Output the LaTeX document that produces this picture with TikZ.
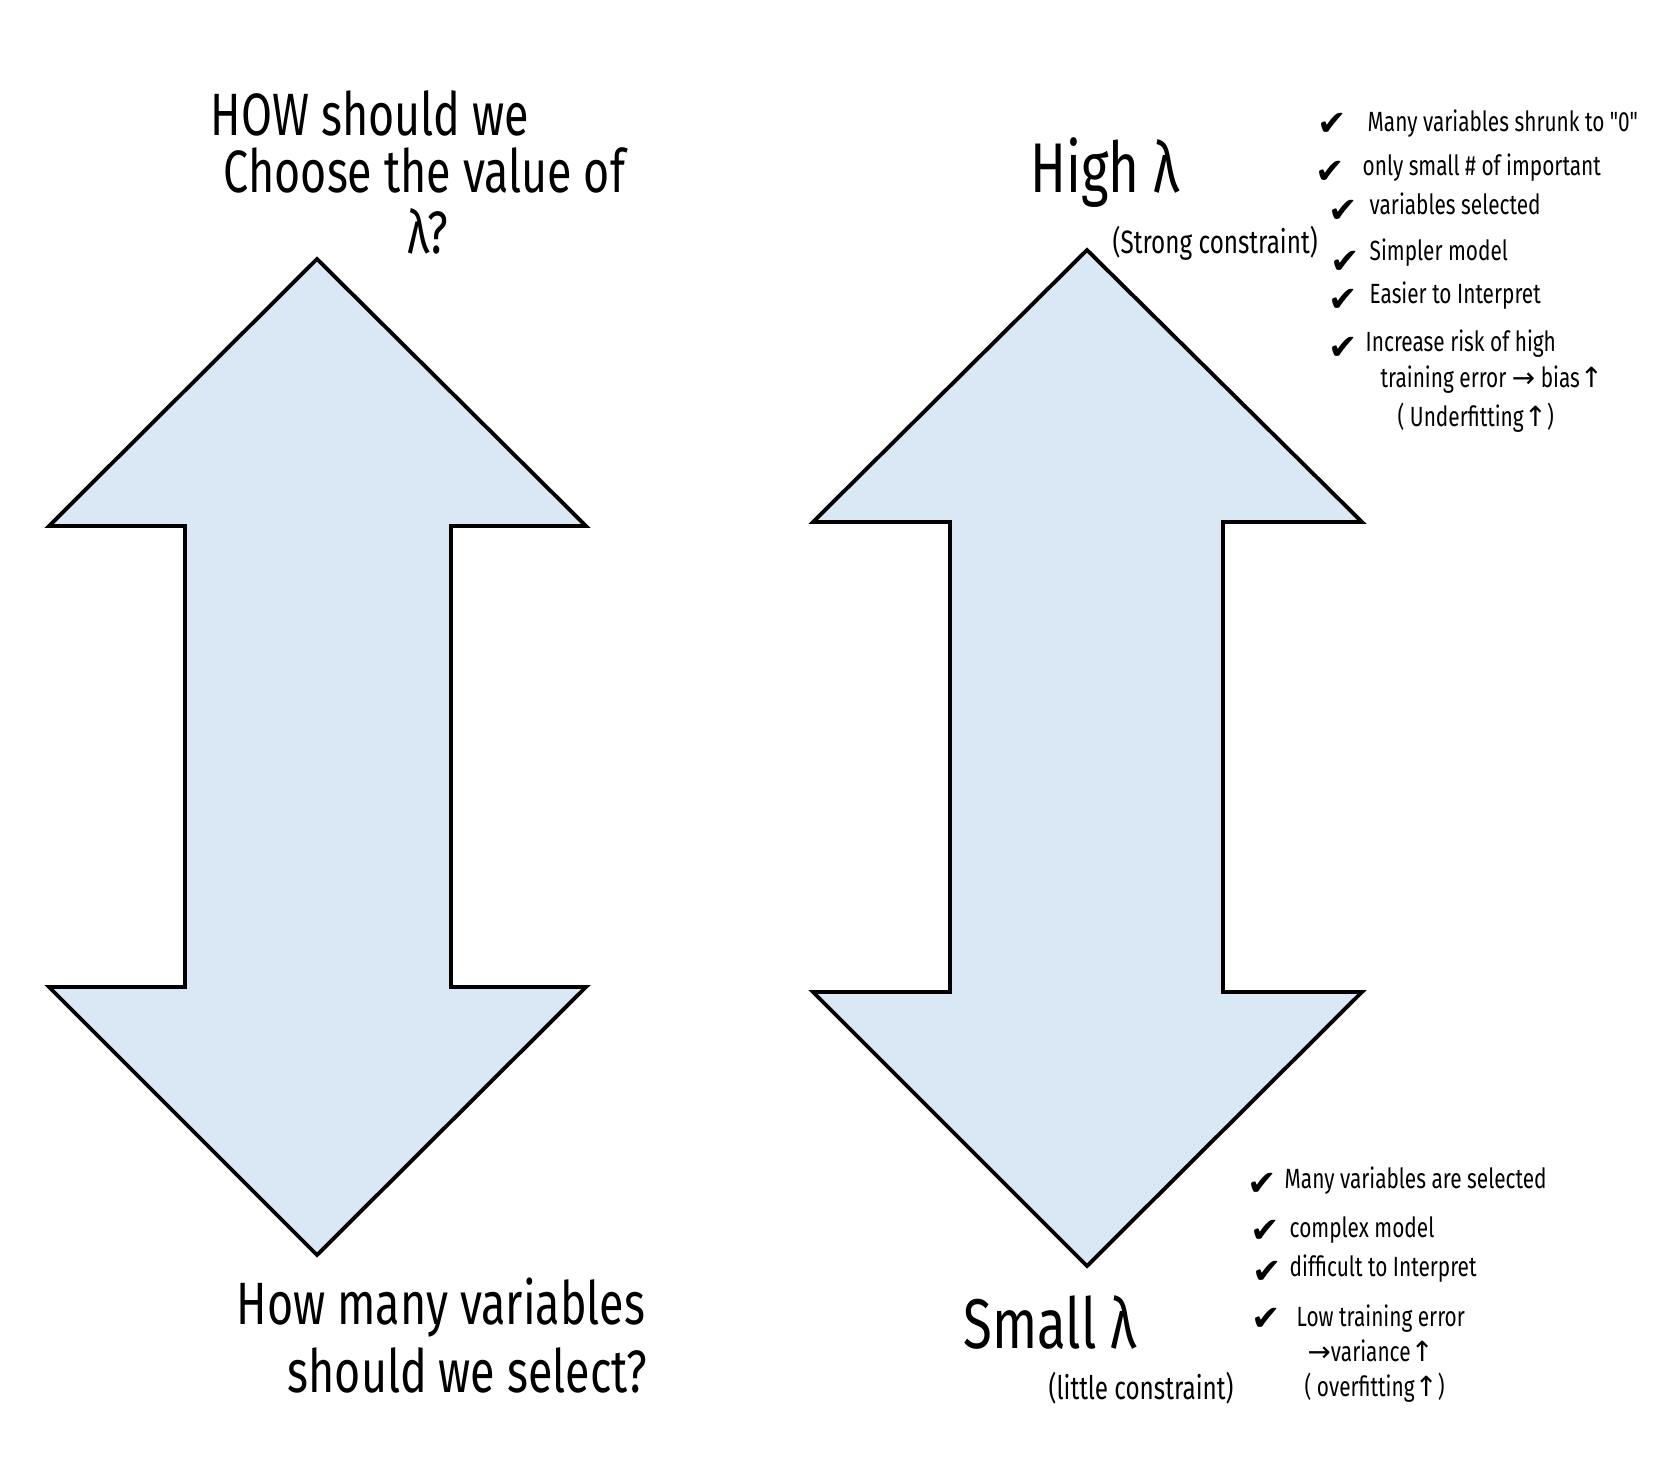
\documentclass[tikz,border=0pt]{standalone}
\usepackage{fontspec}
\setmainfont{Fira Sans}
\newfontfamily\handfont[FakeStretch=0.75]{Fira Sans}
\newfontfamily\symfont{DejaVu Sans}
\newcommand{\sym}[1]{{\symfont #1}}
\definecolor{arrowblue}{HTML}{DAE8F5}

\tikzstyle{bigarrow} = [draw=black, line width=1.1pt, fill=arrowblue, line join=miter]
\tikzstyle{question} = [anchor=west, inner sep=0pt, font=\handfont\fontsize{17}{20}\selectfont]
\tikzstyle{level} = [anchor=west, inner sep=0pt, font=\handfont\fontsize{20}{24}\selectfont]
\tikzstyle{remark} = [anchor=west, inner sep=0pt, font=\handfont\fontsize{9.2}{11}\selectfont]
\tikzstyle{note} = [anchor=west, inner sep=0pt, font=\handfont\fontsize{7.9}{10}\selectfont]
\tikzstyle{tick} = [inner sep=0pt, font=\symfont\fontsize{10}{12}\selectfont]

\begin{document}
\begin{tikzpicture}[x=0.01cm, y=-0.01cm]
\fill[white] (0,0) rectangle (1668,1481);
\useasboundingbox (0,0) rectangle (1668,1481);

% left arrow
\draw[bigarrow] (317,259) -- (586,526) -- (451,526) -- (451,987) -- (586,987)
    -- (317,1255) -- (49,987) -- (185,987) -- (185,526) -- (49,526) -- cycle;
% right arrow
\draw[bigarrow] (1087,250) -- (1362,522) -- (1223,522) -- (1223,992) -- (1362,992)
    -- (1087,1266) -- (813,992) -- (950,992) -- (950,522) -- (813,522) -- cycle;

% questions
\node[question] (how) at (210,113) {HOW should we};
\node[question] (choose) at (223,170) {Choose the value of};
\node[question] (lam) at (407,231) {λ?};
\node[question] (many) at (236,1308) {How many variables};
\node[question] (select) at (287,1370) {should we select?};

% high lambda
\node[level] (high) at (1030,173) {High λ};
\node[remark] (strong) at (1112,243) {(Strong constraint)};
\node[tick] (t1) at (1332,124) {✔};
\node[note] (n1) at (1367,124) {Many variables shrunk to "0"};
\node[tick] (t2) at (1330,172) {✔};
\node[note] (n2) at (1362,168) {only small \# of important};
\node[tick] (t3) at (1343,211) {✔};
\node[note] (n3) at (1369,204) {variables selected};
\node[tick] (t4) at (1345,262) {✔};
\node[note] (n4) at (1369,253) {Simpler model};
\node[tick] (t5) at (1343,300) {✔};
\node[note] (n5) at (1369,296) {Easier to Interpret};
\node[tick] (t6) at (1343,348) {✔};
\node[note] (n6) at (1365,344) {Increase risk of high};
\node[note] (n7) at (1380,380) {training error \sym{→} bias\sym{↑}};
\node[note] (n8) at (1397,418) {( Underfitting\sym{↑})};

% small lambda
\node[level] (small) at (963,1322) {Small λ};
\node[remark] (little) at (1048,1388) {(little constraint)};
\node[tick] (b1) at (1262,1184) {✔};
\node[note] (m1) at (1284,1181) {Many variables are selected};
\node[tick] (b2) at (1265,1231) {✔};
\node[note] (m2) at (1289,1230) {complex model};
\node[tick] (b3) at (1267,1272) {✔};
\node[note] (m3) at (1289,1269) {difficult to Interpret};
\node[tick] (b4) at (1266,1319) {✔};
\node[note] (m4) at (1296,1319) {Low training error};
\node[note] (m5) at (1307,1351) {\sym{→}variance\sym{↑}};
\node[note] (m6) at (1304,1388) {( overfitting\sym{↑})};
\end{tikzpicture}
\end{document}
